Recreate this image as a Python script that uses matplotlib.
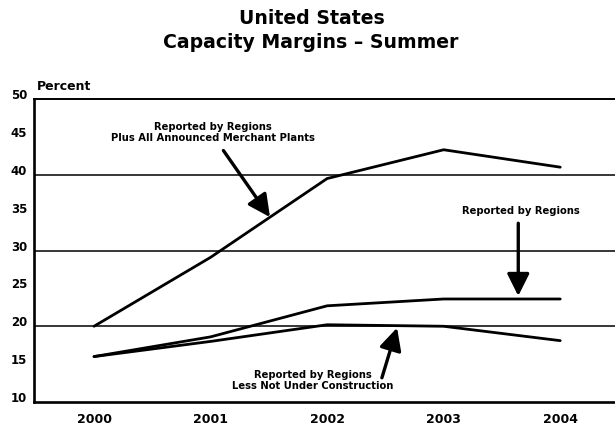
import matplotlib
matplotlib.use("Agg")
import matplotlib.pyplot as plt
from matplotlib.transforms import ScaledTranslation

plt.rcParams['font.family'] = ['DejaVu Sans']
plt.rcParams['font.weight'] = 'bold'

years = [2000, 2001, 2002, 2003, 2004]
plus_merchant = [20.0, 29.1, 39.5, 43.3, 41.0]
reported = [16.0, 18.6, 22.7, 23.6, 23.6]
less_not_under_construction = [16.0, 18.0, 20.2, 20.0, 18.1]
ytick_values = [10, 15, 20, 25, 30, 35, 40, 45, 50]
grid_values = [20, 30, 40]
xtick_labels = ['2000', '2001', '2002', '2003', '2004']

fig = plt.figure(figsize=(6.15, 4.28), dpi=100)
ax = fig.add_axes([0.0553, 0.0607, 0.9447, 0.708])
ax.set_xlim(1999.485, 2004.47)
ax.set_ylim(10, 50)

for g in grid_values:
    ax.axhline(g, color='black', lw=1.1, zorder=1)

for series in (plus_merchant, reported, less_not_under_construction):
    ax.plot(years, series, color='black', lw=2.0, solid_capstyle='round', zorder=3)

ax.spines['right'].set_visible(False)
ax.spines['top'].set_linewidth(1.4)
ax.spines['left'].set_linewidth(1.9)
ax.spines['bottom'].set_linewidth(1.9)

ax.set_yticks(ytick_values)
ax.set_yticklabels([str(v) for v in ytick_values], fontsize=8.5, fontweight='bold')
ax.set_xticks(years)
ax.set_xticklabels(xtick_labels, fontsize=9, fontweight='bold')
ax.tick_params(axis='both', length=0)
ax.tick_params(axis='y', pad=5)
ax.tick_params(axis='x', pad=8)
off = ScaledTranslation(0, 5 / 100, fig.dpi_scale_trans)
for lab in ax.get_yticklabels():
    lab.set_transform(lab.get_transform() + off)

fig.text(312 / 615, 1 - 18 / 428, 'United States', ha='center', va='center',
         fontsize=13.6, fontweight='bold')
fig.text(311 / 615, 1 - 42 / 428, 'Capacity Margins \u2013 Summer', ha='center', va='center',
         fontsize=13.6, fontweight='bold')
fig.text(37 / 615, 1 - 86 / 428, 'Percent', ha='left', va='center',
         fontsize=9, fontweight='bold')

arrow = dict(arrowstyle='-|>,head_length=0.9,head_width=0.45', color='black', lw=2.4,
             mutation_scale=15, shrinkA=0, shrinkB=0)

ax.text(2001.02, 45.6, 'Reported by Regions\nPlus All Announced Merchant Plants',
        ha='center', va='center', fontsize=7.2, fontweight='bold', linespacing=1.15)
ax.annotate('', xy=(2001.51, 34.4), xytext=(2001.11, 43.2), arrowprops=arrow)

ax.text(2003.66, 35.2, 'Reported by Regions', ha='center', va='center',
        fontsize=7.2, fontweight='bold')
ax.annotate('', xy=(2003.64, 24.0), xytext=(2003.64, 33.6), arrowprops=arrow)

ax.text(2001.88, 12.8, 'Reported by Regions\nLess Not Under Construction',
        ha='center', va='center', fontsize=7.2, fontweight='bold', linespacing=1.15)
ax.annotate('', xy=(2002.60, 19.8), xytext=(2002.47, 13.2), arrowprops=arrow)

fig.savefig('out.png', dpi=100)
